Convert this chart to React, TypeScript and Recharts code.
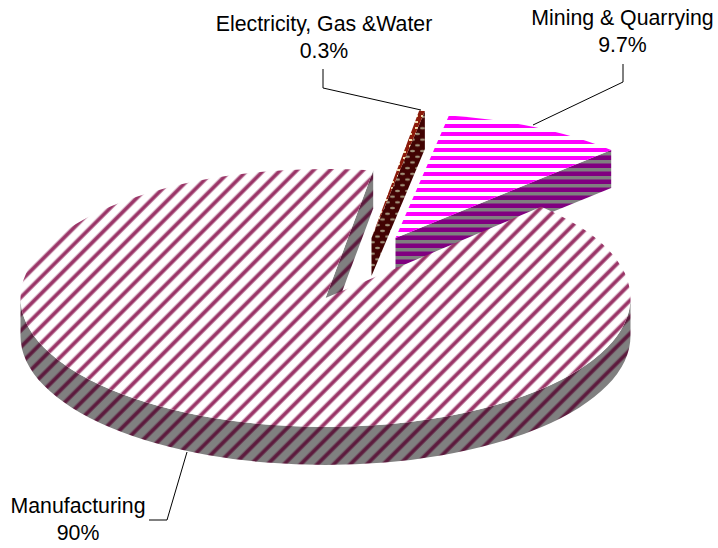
import React from 'react';
import { PieChart, Pie } from 'recharts';

const sectors = ['Mining & Quarrying', 'Electricity, Gas &Water', 'Manufacturing'];
const shares = [9.7, 0.3, 90];
const shareLabels = ['9.7%', '0.3%', '90%'];

const data = sectors.map((name, i) => ({ name, value: shares[i] }));

const SQUASH = 129 / 305;
const DEPTH = 38;

// slice look: pixel explode offset, back-of-pie flattening and pattern ids
const looks: Record<string, any> = {
  'Mining & Quarrying': { dx: 70, dy: -60, flat: 0.965, top: 'url(#magTop)', side: 'url(#magSide)' },
  'Electricity, Gas &Water': { dx: 46, dy: -60, flat: 1, top: 'url(#elecTop)', side: 'url(#elecSide)' },
  Manufacturing: { dx: 0, dy: 0, flat: 1, top: 'url(#manTop)', side: 'url(#manSide)' },
};

const labelPlaces: Record<string, any> = {
  'Mining & Quarrying': { x: 622.5, y: 25, line: '623,64 623,82 533,125' },
  'Electricity, Gas &Water': { x: 324, y: 31, line: '323,69 323,88 421,110' },
  Manufacturing: { x: 78, y: 513, line: '187,452 167,520 149,520' },
};

const rad = (a: number) => (a * Math.PI) / 180;

const SliceShape = (props: any) => {
  const { cx, cy, outerRadius: r, startAngle, endAngle, name } = props;
  const look = looks[name];
  const ox = cx + look.dx;
  const oy = cy + look.dy;
  const ry = r * SQUASH * look.flat;
  const pt = (a: number, down = 0) => [ox + r * Math.cos(rad(a)), oy - ry * Math.sin(rad(a)) + down];
  const arc = (from: number, to: number, sweep: number, down = 0) => {
    const [x, y] = pt(to, down);
    return `A ${r} ${ry} 0 ${Math.abs(to - from) > 180 ? 1 : 0} ${sweep} ${x} ${y}`;
  };
  const [sx, sy] = pt(startAngle);
  const faces: string[] = [];

  // cut face at the start angle shows only when it looks towards the viewer
  if (Math.cos(rad(startAngle)) > 0) {
    faces.push(`M ${ox} ${oy} L ${sx} ${sy} L ${sx} ${sy + DEPTH} L ${ox} ${oy + DEPTH} Z`);
  }
  // outer wall, front half only
  const wallFrom = Math.max(startAngle, 180);
  const wallTo = Math.min(endAngle, 360);
  if (wallTo > wallFrom) {
    const [ax, ay] = pt(wallFrom);
    const [bx, by] = pt(wallTo);
    faces.push(
      `M ${ax} ${ay} ${arc(wallFrom, wallTo, 0)} L ${bx} ${by + DEPTH} ${arc(wallTo, wallFrom, 1, DEPTH)} Z`
    );
  }

  return (
    <g>
      {faces.map((d, i) => (
        <path key={i} d={d} fill={look.side} />
      ))}
      <path d={`M ${ox} ${oy} L ${sx} ${sy} ${arc(startAngle, endAngle, 0)} Z`} fill={look.top} />
    </g>
  );
};

const SliceLabel = (props: any) => {
  const place = labelPlaces[props.name];
  return (
    <text x={place.x} y={place.y} textAnchor="middle" fontFamily="Liberation Sans" fontSize={21.3} fill="#000">
      <tspan x={place.x}>{props.name}</tspan>
      <tspan x={place.x} dy={27}>
        {shareLabels[sectors.indexOf(props.name)]}
      </tspan>
    </text>
  );
};

const SliceLine = (props: any) => (
  <polyline points={labelPlaces[props.name].line} fill="none" stroke="#000" strokeWidth={1} />
);

export default function App() {
  return (
    <div style={{ position: 'absolute', left: 0, top: 0, background: '#fff' }}>
      <PieChart width={718} height={548} margin={{ top: 0, right: 0, bottom: 0, left: 0 }}>
        <defs>
          <linearGradient id="manBand">
            <stop offset="0" stopColor="#fff" />
            <stop offset="0.3" stopColor="#993366" />
            <stop offset="0.7" stopColor="#993366" />
            <stop offset="1" stopColor="#fff" />
          </linearGradient>
          <linearGradient id="manSideBand">
            <stop offset="0" stopColor="#808080" />
            <stop offset="0.3" stopColor="#5c1a3d" />
            <stop offset="0.7" stopColor="#5c1a3d" />
            <stop offset="1" stopColor="#808080" />
          </linearGradient>
          <pattern id="manTop" width="11.7" height="11.7" patternUnits="userSpaceOnUse" patternTransform="rotate(45)">
            <rect width="11.7" height="11.7" fill="#fff" />
            <rect width="5.5" height="11.7" fill="url(#manBand)" />
          </pattern>
          <pattern id="manSide" width="11.7" height="11.7" patternUnits="userSpaceOnUse" patternTransform="rotate(45)">
            <rect width="11.7" height="11.7" fill="#808080" />
            <rect width="5.5" height="11.7" fill="url(#manSideBand)" />
          </pattern>
          <pattern id="magTop" width="8" height="8" patternUnits="userSpaceOnUse">
            <rect width="8" height="8" fill="#fff" />
            <rect y="4" width="8" height="4" fill="#ff00ff" />
          </pattern>
          <pattern id="magSide" width="8" height="8" patternUnits="userSpaceOnUse">
            <rect width="8" height="8" fill="#808080" />
            <rect y="3.5" width="8" height="4.5" fill="#800080" />
          </pattern>
          <pattern id="elecTop" width="6" height="6" patternUnits="userSpaceOnUse">
            <rect width="6" height="6" fill="#8b1a0a" />
            <rect x="1" y="1" width="3" height="2" fill="#f0d8a8" />
          </pattern>
          <pattern id="elecSide" width="10" height="11.4" patternUnits="userSpaceOnUse">
            <rect width="10" height="11.4" fill="#420303" />
            <ellipse cx="2.5" cy="2.8" rx="2.5" ry="1.2" fill="#a09078" />
            <ellipse cx="7.5" cy="8.5" rx="2.5" ry="1.2" fill="#a09078" />
          </pattern>
        </defs>
        <Pie
          data={data}
          dataKey="value"
          nameKey="name"
          cx={325.5}
          cy={298}
          innerRadius={0}
          outerRadius={305}
          startAngle={45}
          endAngle={405}
          stroke="none"
          isAnimationActive={false}
          shape={SliceShape}
          label={SliceLabel}
          labelLine={SliceLine}
        />
      </PieChart>
    </div>
  );
}
